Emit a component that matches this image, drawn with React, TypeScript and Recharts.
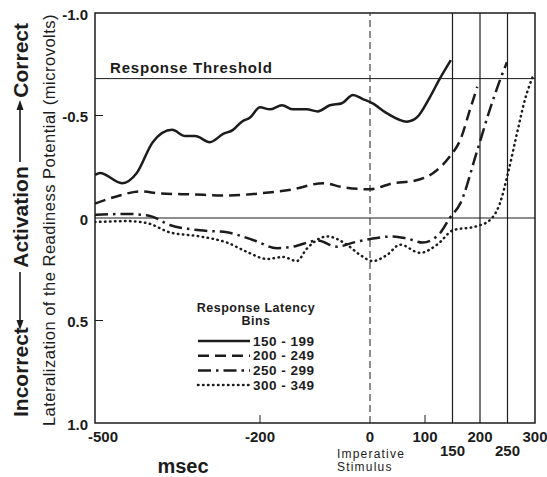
import React from 'react';
import { LineChart, Line, XAxis, YAxis, ReferenceLine, ReferenceArea, Legend } from 'recharts';

// latency bin 150-199 (solid)
const solidTimes = [-500, -491, -451, -424, -395, -360, -336, -318, -291, -267, -249, -233, -218, -200, -182, -160, -140, -115, -95, -73, -51, -31, -13, 4, 31, 67, 85, 109, 127, 147];
const solidValues = [-0.21, -0.22, -0.17, -0.22, -0.37, -0.43, -0.4, -0.4, -0.37, -0.41, -0.43, -0.47, -0.49, -0.54, -0.53, -0.55, -0.53, -0.53, -0.52, -0.55, -0.56, -0.6, -0.58, -0.56, -0.51, -0.47, -0.49, -0.59, -0.68, -0.77];

// latency bin 200-249 (dashed)
const dashTimes = [-500, -455, -418, -382, -322, -260, -200, -140, -85, -49, 0, 42, 78, 115, 145, 164, 182, 195];
const dashValues = [-0.07, -0.11, -0.13, -0.12, -0.115, -0.11, -0.12, -0.14, -0.17, -0.15, -0.14, -0.17, -0.18, -0.22, -0.3, -0.38, -0.53, -0.64];

// latency bin 250-299 (dash-dot)
const dashDotTimes = [-500, -442, -400, -364, -309, -260, -213, -169, -140, -96, -60, -31, 5, 42, 67, 96, 127, 145, 164, 194, 218, 236, 249];
const dashDotValues = [-0.015, -0.02, -0.01, 0.034, 0.06, 0.07, 0.107, 0.147, 0.14, 0.11, 0.14, 0.12, 0.1, 0.09, 0.1, 0.12, 0.075, 0, -0.07, -0.32, -0.53, -0.67, -0.76];

// latency bin 300-349 (dotted)
const dotTimes = [-500, -442, -405, -364, -309, -260, -224, -187, -158, -133, -115, -78, -42, -18, 5, 31, 55, 91, 122, 151, 194, 218, 236, 251, 267, 282, 296];
const dotValues = [0.02, 0.015, 0.025, 0.07, 0.09, 0.12, 0.165, 0.2, 0.19, 0.21, 0.15, 0.09, 0.13, 0.18, 0.21, 0.18, 0.13, 0.17, 0.13, 0.06, 0.04, 0.01, -0.07, -0.22, -0.41, -0.58, -0.69];

const binLabels = ['150 - 199', '200 - 249', '250 - 299', '300 - 349'];
const xTicks = [-500, -200, 0, 100, 150, 200, 250, 300];
const lowTicks = [150, 250];
const xMarkTicks = [-200, 100];
const yTicks = [-1, -0.5, 0, 0.5, 1];
const yMarkTicks = [-0.5, 0.5];
const latencyLines = [150, 200, 250];
const threshold = -0.68;

const INK = '#1c1c1c';
const FONT = '"Liberation Sans", Arial, sans-serif';

const zip = (t: number[], v: number[]) => t.map((x, i) => ({ t: x, v: v[i] }));

const series = [
  { name: binLabels[0], data: zip(solidTimes, solidValues), dash: undefined as string | undefined, cap: 'butt' },
  { name: binLabels[1], data: zip(dashTimes, dashValues), dash: '11 6', cap: 'butt' },
  { name: binLabels[2], data: zip(dashDotTimes, dashDotValues), dash: '13 5 2.5 5', cap: 'butt' },
  { name: binLabels[3], data: zip(dotTimes, dotValues), dash: '0.5 4.5', cap: 'round' },
];

const YTick = (props: any) => {
  const { x, y, payload } = props;
  const v = payload.value as number;
  const label = v === 0 ? '0' : v.toFixed(1);
  return (
    <g>
      <text x={x} y={y + 1} textAnchor="end" dominantBaseline="central" fontSize={15} fontWeight="bold" fill={INK} fontFamily={FONT}>
        {label}
      </text>
      {yMarkTicks.includes(v) && <line x1={x + 7} x2={x + 15} y1={y} y2={y} stroke={INK} strokeWidth={1} />}
    </g>
  );
};

const XTick = (props: any) => {
  const { x, y, payload } = props;
  const v = payload.value as number;
  const low = lowTicks.includes(v);
  // the -500 label sits a little right of the corner, clear of "1.0"
  const lx = v === -500 ? x + 8 : x;
  return (
    <g>
      <text x={lx} y={y + (low ? 14 : 0)} dy="0.71em" textAnchor="middle" fontSize={15} fontWeight="bold" fill={INK} fontFamily={FONT}>
        {v}
      </text>
      {xMarkTicks.includes(v) && <line x1={x} x2={x} y1={y - 8} y2={y - 16} stroke={INK} strokeWidth={1} />}
      {v === 0 && (
        <text x={x - 33} y={y + 27} fontSize={12} fill={INK} fontFamily={FONT} letterSpacing={1.2}>
          <tspan x={x - 33}>Imperative</tspan>
          <tspan x={x - 33} dy={13}>Stimulus</tspan>
        </text>
      )}
    </g>
  );
};

const YLabel = (props: any) => {
  const { x, y, height } = props.viewBox;
  const cy = y + height / 2 + 2;
  return (
    <g fill={INK} fontFamily={FONT}>
      <g transform={`translate(${x + 20} ${cy}) rotate(-90)`} fontSize={21} fontWeight="bold">
        <text x={-197} y={0} dominantBaseline="central">Incorrect</text>
        <line x1={-104} x2={-52} y1={0} y2={0} stroke={INK} strokeWidth={1.6} />
        <polygon points="-110,0 -100,-3.5 -100,3.5" />
        <text x={3} y={0} textAnchor="middle" dominantBaseline="central">Activation</text>
        <line x1={58} x2={112} y1={0} y2={0} stroke={INK} strokeWidth={1.6} />
        <polygon points="120,0 110,-3.5 110,3.5" />
        <text x={197} y={0} textAnchor="end" dominantBaseline="central">Correct</text>
      </g>
      <text x={x + 49} y={cy} transform={`rotate(-90 ${x + 49} ${cy})`} textAnchor="middle" dominantBaseline="central" fontSize={16.5} letterSpacing={0.5}>
        Lateralization of the Readiness Potential (microvolts)
      </text>
    </g>
  );
};

const XLabel = (props: any) => {
  const { x, y } = props.viewBox;
  return (
    <text x={x + 88} y={y + 43} textAnchor="middle" dominantBaseline="central" fontSize={20} fontWeight="bold" fill={INK} fontFamily={FONT}>
      msec
    </text>
  );
};

const ThresholdLabel = (props: any) => {
  const { x, y } = props.viewBox;
  return (
    <text x={x + 15} y={y - 6} fontSize={15} fontWeight="bold" fill={INK} fontFamily={FONT} letterSpacing={0.8}>
      Response Threshold
    </text>
  );
};

const LegendBox = () => (
  <svg width={150} height={100} style={{ display: 'block' }}>
    <g fill={INK} fontFamily={FONT} fontWeight="bold">
      <text x={66} y={10} textAnchor="middle" dominantBaseline="central" fontSize={12.5} letterSpacing={0.5}>Response Latency</text>
      <text x={66} y={23} textAnchor="middle" dominantBaseline="central" fontSize={12.5} letterSpacing={0.5}>Bins</text>
      {series.map((s, i) => (
        <g key={s.name}>
          <line x1={8} x2={60} y1={43 + i * 14.7} y2={43 + i * 14.7} stroke={INK} strokeWidth={2.5} strokeDasharray={s.dash} strokeLinecap={s.cap as any} />
          <text x={63} y={43 + i * 14.7} dominantBaseline="central" fontSize={13.5} letterSpacing={0.5}>{s.name}</text>
        </g>
      ))}
    </g>
  </svg>
);

export default function App() {
  return (
    <div style={{ position: 'absolute', left: 0, top: 0, width: 547, height: 477, background: '#fff' }}>
      <LineChart width={547} height={477} margin={{ top: 13, right: 12, bottom: 0, left: 0 }}>
        <XAxis
          type="number"
          dataKey="t"
          domain={[-500, 300]}
          ticks={xTicks}
          interval={0}
          allowDataOverflow
          axisLine={false}
          tickLine={false}
          tickSize={0}
          tickMargin={8}
          height={54}
          tick={<XTick />}
          label={<XLabel />}
        />
        <YAxis
          type="number"
          dataKey="v"
          domain={[-1, 1]}
          reversed
          ticks={yTicks}
          interval={0}
          allowDataOverflow
          axisLine={false}
          tickLine={false}
          tickSize={0}
          tickMargin={7}
          width={95}
          tick={<YTick />}
          label={<YLabel />}
        />
        <ReferenceArea x1={-500} x2={300} y1={-1} y2={1} fill="none" stroke={INK} strokeWidth={1.5} ifOverflow="visible" />
        <ReferenceLine y={0} stroke={INK} strokeWidth={1} />
        <ReferenceLine y={threshold} stroke={INK} strokeWidth={1} label={<ThresholdLabel />} />
        <ReferenceLine x={0} stroke={INK} strokeWidth={1} strokeDasharray="7 4" />
        {latencyLines.map((t) => (
          <ReferenceLine key={t} x={t} stroke={INK} strokeWidth={1.2} />
        ))}
        {series.map((s) => (
          <Line
            key={s.name}
            data={s.data}
            dataKey="v"
            name={s.name}
            type="monotone"
            stroke={INK}
            strokeWidth={2.5}
            strokeDasharray={s.dash}
            strokeLinecap={s.cap as any}
            dot={false}
            activeDot={false}
            isAnimationActive={false}
          />
        ))}
        <Legend
          layout="horizontal"
          align="center"
          verticalAlign="middle"
          content={<LegendBox />}
          wrapperStyle={{ position: 'absolute', left: 190, top: 298, width: 150 }}
        />
      </LineChart>
    </div>
  );
}
